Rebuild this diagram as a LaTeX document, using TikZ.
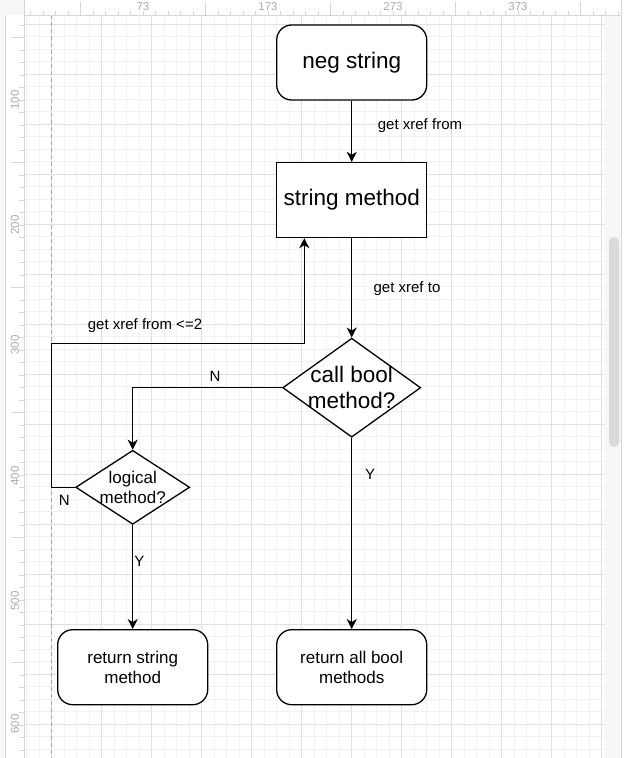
\documentclass[tikz,border=0pt]{standalone}
\usepackage{fontspec}
\setmainfont{Liberation Sans}
\usetikzlibrary{arrows.meta,shapes.geometric}
\definecolor{gridmin}{HTML}{F1F1F1}
\definecolor{gridmaj}{HTML}{E0E0E0}
\definecolor{rulerline}{HTML}{D6D6D6}
\definecolor{rulertext}{HTML}{ABABAB}
\definecolor{paneback}{HTML}{F6F7F9}
\definecolor{scrollc}{HTML}{DADADB}
\tikzset{
  box/.style={draw=black, line width=1.3pt, fill=white, minimum width=150pt, minimum height=75pt, inner sep=0pt, align=center},
  roundbox/.style={box, rounded corners=15pt},
  dia/.style={diamond, draw=black, line width=1.3pt, fill=white, inner sep=0pt},
  bigtext/.style={font=\fontsize{22.5}{26}\selectfont, align=center},
  midtext/.style={font=\fontsize{17}{20.5}\selectfont, align=center},
  edgelabel/.style={font=\fontsize{15}{18}\selectfont, inner sep=0pt},
  arr/.style={draw=black, line width=1.3pt, -{Stealth[length=10pt,width=10pt,inset=3pt]}},
  rulernum/.style={font=\fontsize{11.5}{13}\selectfont, text=rulertext, inner sep=0pt},
}
\begin{document}
\begin{tikzpicture}[x=1pt,y=-1pt]
\useasboundingbox (0,0) rectangle (624,758);
\fill[white] (0,0) rectangle (624,758);
% ---- canvas grid ----
\begin{scope}
\clip (24,15) rectangle (605,758);
\foreach \i in {0,...,46} \draw[gridmin, line width=0.6pt] (26.7+12.5*\i,15) -- (26.7+12.5*\i,758);
\foreach \i in {0,...,58} \draw[gridmin, line width=0.6pt] (24,24+12.5*\i) -- (605,24+12.5*\i);
\foreach \i in {0,...,11} \draw[gridmaj, line width=0.8pt] (51.7+50*\i,15) -- (51.7+50*\i,758);
\foreach \i in {0,...,14} \draw[gridmaj, line width=0.8pt] (24,24+50*\i) -- (605,24+50*\i);
\end{scope}
% page boundary
\draw[black!35, line width=0.8pt, dash pattern=on 4pt off 3pt] (51.7,15) -- (51.7,758);
% ---- right pane and scrollbar ----
\fill[paneback] (605,15) rectangle (621,758);
\draw[rulerline, line width=0.6pt] (621,0) -- (621,758);
\fill[scrollc, rounded corners=5pt] (609,237) rectangle (619,447);
% ---- rulers ----
\fill[paneback] (0,0) rectangle (24,15);
\fill[paneback] (0,15) rectangle (5,758);
\draw[rulerline, line width=0.6pt] (24,15) -- (621,15);
\draw[rulerline, line width=0.6pt] (24,0) -- (24,758);
\draw[rulerline, line width=0.6pt] (5,15) -- (5,758);
\foreach \i in {0,...,47} \draw[rulerline, line width=0.6pt] (30.7+12.5*\i,10.5) -- (30.7+12.5*\i,15);
\foreach \i in {0,...,4} \draw[rulerline, line width=0.6pt] (80.7+125*\i,2) -- (80.7+125*\i,15);
\foreach \i in {0,...,58} \draw[rulerline, line width=0.6pt] (19,24.8+12.5*\i) -- (24,24.8+12.5*\i);
\foreach \i in {0,...,5} \draw[rulerline, line width=0.6pt] (11,37.3+125*\i) -- (24,37.3+125*\i);
\node[rulernum] (t73) at (143,7) {73};
\node[rulernum] (t173) at (268,7) {173};
\node[rulernum] (t273) at (393,7) {273};
\node[rulernum] (t373) at (518,7) {373};
\node[rulernum, rotate=90] (l100) at (15,100) {100};
\node[rulernum, rotate=90] (l200) at (15,225) {200};
\node[rulernum, rotate=90] (l300) at (15,345) {300};
\node[rulernum, rotate=90] (l400) at (15,476) {400};
\node[rulernum, rotate=90] (l500) at (15,601) {500};
\node[rulernum, rotate=90] (l600) at (15,724) {600};
% ---- diagram nodes ----
\node[roundbox, bigtext] (neg) at (351.7,62.5) {neg string};
\node[box, bigtext] (sm) at (351.7,200) {string method};
\node[dia, minimum width=138pt, minimum height=99pt] (cb) at (351.7,387.7) {};
\node[bigtext, inner sep=0pt] (cbt) at (cb.center) {call bool\\method?};
\node[dia, minimum width=114pt, minimum height=74pt] (lg) at (132.7,487.3) {};
\node[midtext, inner sep=0pt] (lgt) at (lg.center) {logical\\method?};
\node[roundbox, midtext] (rs) at (132.7,667.2) {return string\\method};
\node[roundbox, midtext] (ra) at (351.7,667.2) {return all bool\\methods};
% ---- connectors ----
\coordinate (lp1) at (51.7,343.3);
\coordinate (lp2) at (304.3,343.3);
\draw[arr] (neg) -- (sm);
\draw[arr] (sm) -- (cb);
\draw[arr] (cb.west) -| (lg.north);
\draw[arr] (lg.west) -| (lp1) -- (lp2) -- (lp2 |- sm.south);
\draw[arr] (lg) -- (rs);
\draw[arr] (cb) -- (ra);
% ---- connector labels ----
\node[edgelabel] (l1) at (420,126) {get xref from};
\node[edgelabel] (l2) at (407,289) {get xref to};
\node[edgelabel] (l3) at (145,326) {get xref from <=2};
\node[edgelabel] (l4) at (215,376) {N};
\node[edgelabel] (l5) at (64.3,500.7) {N};
\node[edgelabel] (l6) at (370,474) {Y};
\node[edgelabel] (l7) at (139.3,561.7) {Y};
\end{tikzpicture}
\end{document}
